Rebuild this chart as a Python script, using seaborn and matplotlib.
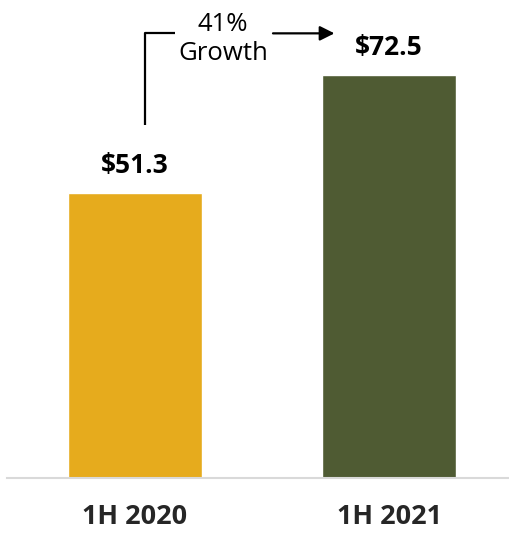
import matplotlib
matplotlib.use("Agg")
import matplotlib.pyplot as plt
import seaborn as sns
import pandas as pd

periods = ["1H 2020", "1H 2021"]
values = [51.3, 72.5]
value_labels = ["$51.3", "$72.5"]
bar_colors = ["#E6AB1D", "#4F5B33"]
growth_text = "41%\nGrowth"

sns.set_style("white")
plt.rcParams["font.family"] = ["Open Sans", "DejaVu Sans"]

df = pd.DataFrame({"period": periods, "value": values})

fig = plt.figure(figsize=(5.10, 5.33), dpi=100)
ax = fig.add_axes([7 / 510, 1 - 478 / 533, 503 / 510, 478 / 533])

sns.barplot(data=df, x="period", y="value", hue="period", palette=bar_colors,
            width=0.528, legend=False, ax=ax, saturation=1)

ax.set_ylim(0, 86.0)
ax.set_xlim(-0.504, 1.476)
ax.set_xlabel("")
ax.set_ylabel("")
ax.set_yticks([])
for side in ["top", "right", "left"]:
    ax.spines[side].set_visible(False)
ax.spines["bottom"].set_color("#D9D9D9")
ax.spines["bottom"].set_linewidth(1.5)
ax.tick_params(axis="x", length=0, pad=19, labelsize=19.5)
for lbl in ax.get_xticklabels():
    lbl.set_fontweight("bold")

# value labels above bars
for i, (v, txt) in enumerate(zip(values, value_labels)):
    ax.text(i, v + 5, txt, ha="center", va="center", fontsize=19,
            fontweight="bold", color="black")

# growth annotation: elbow line from left label up, across to the right label
y_top = values[1] + 7.5
x0 = 0.039
ax.plot([x0, x0, 0.157], [values[0] + 12.2, y_top, y_top], color="black",
        lw=1.6, solid_capstyle="butt")
ax.annotate("", xy=(0.785, y_top), xytext=(0.543, y_top),
            arrowprops=dict(arrowstyle="-|>", color="black", lw=1.6,
                            mutation_scale=22, shrinkA=0, shrinkB=0))
ax.text(0.346, y_top - 1.0, growth_text, ha="center", va="center",
        fontsize=18.5, color="black", linespacing=1.2)

fig.savefig("out.png", dpi=100)
